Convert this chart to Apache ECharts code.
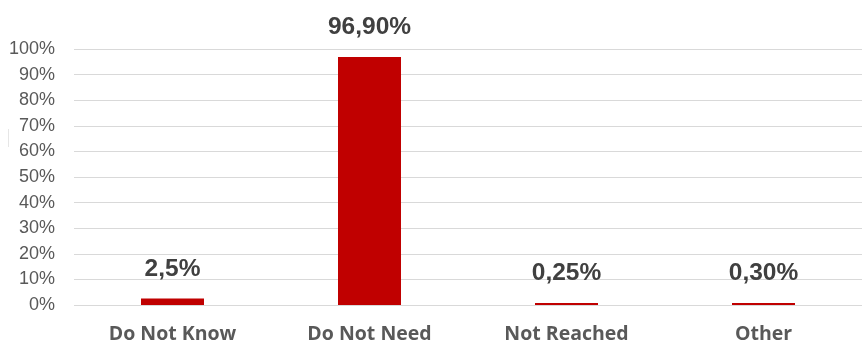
<!DOCTYPE html>
<html>
<head>
<meta charset="utf-8">
<script src="https://cdn.jsdelivr.net/npm/echarts@6/dist/echarts.min.js"></script>
<style>
  html, body { margin: 0; padding: 0; background: #ffffff; }
  #chart { width: 862px; height: 345px; }
</style>
</head>
<body>
<div id="chart"></div>
<script>
// Reasons given, share of respondents (%)
const categories = ['Do Not Know', 'Do Not Need', 'Not Reached', 'Other'];
const shares = [2.5, 96.9, 0.25, 0.30];
// Decimal places shown in each bar's label
const labelDecimals = [1, 2, 2, 2];
const yTicks = [0, 10, 20, 30, 40, 50, 60, 70, 80, 90, 100];

function pct(v, d) {
  return v.toFixed(d).replace('.', ',') + '%';
}

const chart = echarts.init(document.getElementById('chart'), null, { renderer: 'canvas' });
chart.setOption({
  animation: false,
  backgroundColor: '#ffffff',
  grid: { left: 74, top: 49, width: 798, height: 256, containLabel: false },
  xAxis: {
    type: 'category',
    data: categories,
    axisLine: { show: false },
    axisTick: { show: false },
    axisLabel: {
      margin: 19,
      color: '#595959',
      fontFamily: 'Open Sans',
      fontWeight: 'bold',
      fontSize: 19.5
    }
  },
  yAxis: {
    type: 'value',
    min: yTicks[0],
    max: yTicks[yTicks.length - 1],
    interval: 10,
    axisLine: { show: false },
    axisTick: { show: false },
    splitLine: { lineStyle: { color: '#d9d9d9', width: 1 } },
    axisLabel: {
      margin: 19,
      color: '#595959',
      fontFamily: 'Liberation Sans',
      fontSize: 18,
      formatter: v => v + '%'
    }
  },
  series: [{
    type: 'bar',
    data: shares,
    barWidth: 63,
    barMinHeight: 2,
    itemStyle: { color: '#c00000' },
    label: {
      show: true,
      position: 'top',
      distance: 17,
      color: '#404040',
      fontFamily: 'Liberation Sans',
      fontWeight: 'bold',
      fontSize: 24.5,
      formatter: p => pct(p.value, labelDecimals[p.dataIndex])
    }
  }],
  graphic: [{
    type: 'line',
    shape: { x1: 8.5, y1: 129, x2: 8.5, y2: 147 },
    style: { stroke: '#e6e6e6', lineWidth: 1 }
  }]
});
</script>
</body>
</html>
